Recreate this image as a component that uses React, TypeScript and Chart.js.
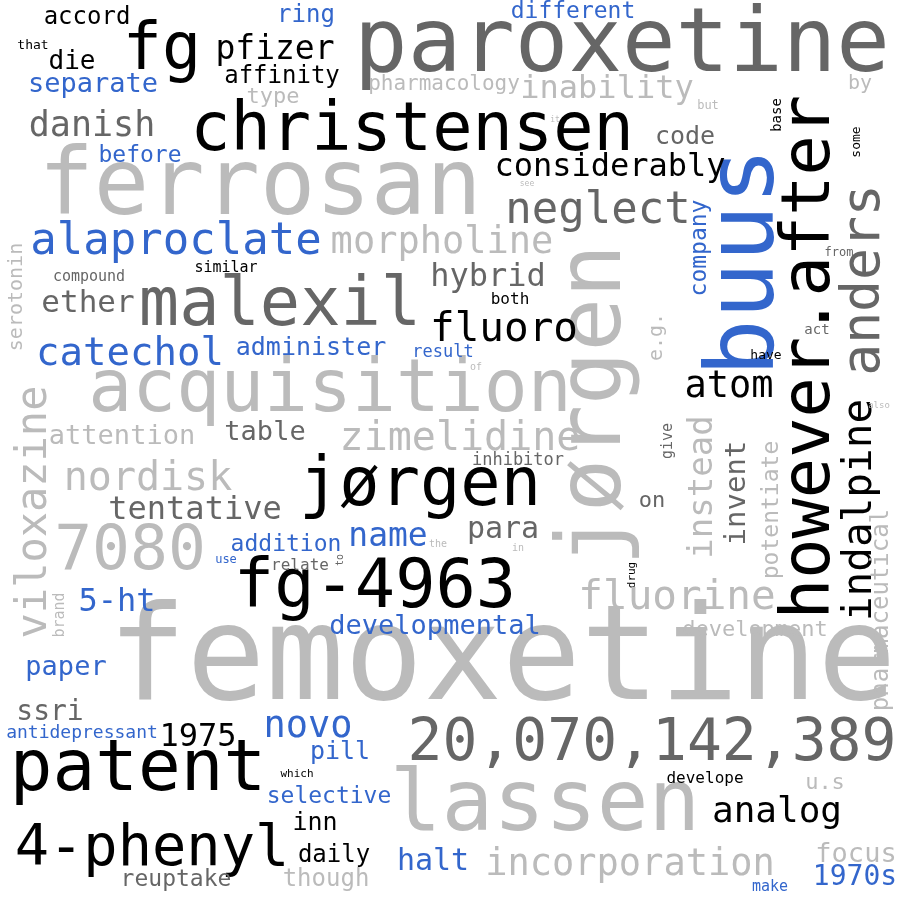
import React, { useEffect, useRef } from "react";
import { Chart, registerables } from "chart.js";
Chart.register(...registerables);

const words = ["paroxetine","femoxetine","ferrosan","jørgen","buus","however.after","anders","indalpine","pharmaceutical","christensen","malexil","acquisition","jørgen","fg-4963","7080","patent","4-phenyl","lassen","20,070,142,389","incorporation","fg","pfizer","affinity","die","accord","that","ring","different","separate","type","danish","before","pharmacology","inability","by","but","code","base","some","considerably","neglect","company","e.g.","morpholine","alaproclate","serotonin","compound","similar","ether","hybrid","fluoro","both","catechol","administer","result","of","atom","act","from","have","also","viloxazine","attention","table","zimelidine","inhibitor","give","instead","invent","potentiate","nordisk","tentative","on","para","name","addition","use","relate","to","the","in","drug","fluorine","5-ht","brand","developmental","development","paper","ssri","antidepressant","1975","novo","pill","which","selective","inn","daily","though","reuptake","halt","analog","develope","u.s","focus","1970s","make","see","it"];
const xs = [622,502,260,597,748,812,865,860,882,412,280,330,420,375,130,138,152,545,652,630,162,275,282,72,87,33,306,573,93,273,92,140,444,607,860,708,685,777,857,610,598,700,657,442,176,17,89,226,88,488,504,510,130,311,443,476,729,817,839,766,879,35,122,265,460,518,668,703,737,772,148,195,652,503,388,286,226,300,340,438,518,632,677,117,60,435,755,66,50,82,198,308,340,297,329,315,334,326,176,433,777,705,825,856,855,770,527,555];
const ys = [48,665,190,405,262,357,280,510,610,133,308,392,488,590,553,772,850,808,745,865,52,50,77,62,18,46,16,12,85,97,127,156,85,90,84,106,137,115,142,168,212,248,337,243,243,297,277,268,304,278,330,300,355,348,353,367,387,330,253,356,406,512,437,433,440,461,441,487,493,510,480,511,501,530,537,545,560,566,560,544,548,575,598,603,615,627,630,668,713,733,738,727,752,774,797,823,856,880,880,862,813,779,783,855,878,887,184,120];
const sizes = [89,131,92,89,95,67,53,41,24,67,67,73,67,67,63,71,57,86,58,37,65,33,24,26,24,13,24,23,27,22,35,23,21,32,20,12,25,14,13,32,44,23,20,37,44,20,15,15,31,32,41,16,39,25,17,10,37,14,12,13,9,42,27,27,40,17,15,34,29,23,40,32,22,30,33,23,12,16,10,10,10,11,41,32,15,27,22,27,28,18,32,37,25,11,23,25,24,24,23,30,36,16,22,27,28,15,8,8];
const rotations = [0,0,0,-90,-90,-90,-90,-90,-90,0,0,0,0,0,0,0,0,0,0,0,0,0,0,0,0,0,0,0,0,0,0,0,0,0,0,0,0,-90,-90,0,0,-90,-90,0,0,-90,0,0,0,0,0,0,0,0,0,0,0,0,0,0,0,-90,0,0,0,0,-90,-90,-90,-90,0,0,0,0,0,0,0,0,-90,0,0,-90,0,0,-90,0,0,0,0,0,0,0,0,0,0,0,0,0,0,0,0,0,0,0,0,0,0,0];
const colorKeys = ["d","l","l","l","u","b","d","b","l","b","d","l","b","b","l","b","b","l","d","l","b","b","b","b","b","b","u","u","u","l","d","u","l","l","l","l","d","b","b","b","d","u","l","l","u","l","d","b","d","d","b","b","u","u","u","l","b","d","d","b","l","l","l","d","l","d","d","l","d","l","l","d","d","d","u","u","u","d","d","l","l","b","l","u","l","u","l","u","d","u","b","u","u","b","u","b","b","l","d","u","b","b","l","l","u","u","l","l"];
const palette: Record<string, string> = { b: "#000000", d: "#666666", l: "#bbbbbb", u: "#3366cc" };

export default function App() {
  const ref = useRef<HTMLCanvasElement>(null);
  useEffect(() => {
    document.body.style.margin = "0";
    const textPlugin = {
      id: "wordText",
      afterDatasetsDraw(chart: any) {
        const ctx = chart.ctx;
        const sx = chart.scales.x, sy = chart.scales.y;
        const data = chart.data.datasets[0].data as any[];
        data.forEach((p: any, i: number) => {
          ctx.save();
          ctx.translate(sx.getPixelForValue(p.x), sy.getPixelForValue(p.y));
          ctx.rotate((rotations[i] * Math.PI) / 180);
          ctx.font = `${sizes[i]}px "DejaVu Sans Mono", monospace`;
          ctx.fillStyle = palette[colorKeys[i]] || "#666";
          ctx.textAlign = "center";
          ctx.textBaseline = "middle";
          ctx.fillText(words[i], 0, 0);
          ctx.restore();
        });
      },
    };
    const chart = new Chart(ref.current!, {
      type: "scatter",
      data: { datasets: [{ data: words.map((_, i) => ({ x: xs[i], y: ys[i] })), pointRadius: 0 }] },
      options: {
        animation: false,
        responsive: false,
        layout: { padding: 0 },
        plugins: { legend: { display: false }, tooltip: { enabled: false } },
        scales: {
          x: { display: false, min: 0, max: 900 },
          y: { display: false, min: 0, max: 900, reverse: true },
        },
      },
      plugins: [textPlugin],
    });
    return () => chart.destroy();
  }, []);
  return <canvas ref={ref} width={900} height={900} style={{ display: "block", background: "#fff" }} />;
}
